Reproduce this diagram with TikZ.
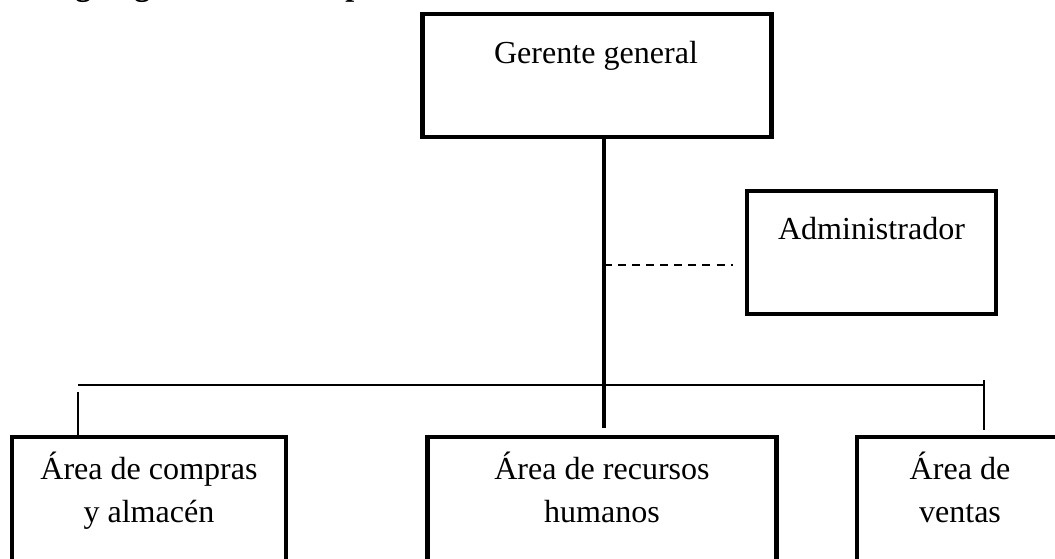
\documentclass[tikz,border=0pt]{standalone}
\usepackage{fontspec}
\setmainfont{Liberation Serif}
\usetikzlibrary{positioning,calc}

\tikzset{
  caja/.style={draw, line width=3.5pt, inner sep=0pt, minimum height=#1},
  caja/.default=3.075cm,
  texto/.style={anchor=base, align=center, inner sep=0pt,
    font=\fontsize{22.8}{29.9}\selectfont},
  tronco/.style={line width=3.5pt},
  rama/.style={line width=1.1pt},
  enlace/.style={line width=0.9pt, dash pattern=on 5.7pt off 4.3pt}
}

\begin{document}
\begin{tikzpicture}[x=0.025cm,y=-0.025cm]
    \useasboundingbox (0,0) rectangle (1055,559);
    % titulo (cortado por el borde superior)
    \node[anchor=base west, inner sep=0pt, font=\fontsize{22.8}{29.9}\selectfont\bfseries]
        (titulo) at (36,-5) {Organigrama de la empresa};
    % cajas
    \node[caja, minimum width=8.7cm] (gerente) at (597,75.5) {};
    \node[caja, minimum width=6.225cm] (admin) at (871.5,252.5) {};
    \node[caja=4.075cm, minimum width=6.85cm] (compras) at (149,518.5) {};
    \node[caja=4.075cm, minimum width=8.7cm] (rrhh) at (602,518.5) {};
    \node[caja=4.075cm, minimum width=5.15cm] (ventas) at (960,518.5) {};
    % textos
    \node[texto] (gerente-txt) at (596,63) {Gerente general};
    \node[texto] (admin-txt) at (871.5,239) {Administrador};
    \node[texto] (compras-txt) at (149,522) {Área de compras\\y almacén};
    \node[texto] (rrhh-txt) at (602,522) {Área de recursos\\humanos};
    \node[texto] (ventas-txt) at (960,522) {Área de\\ventas};
    % puntos de las lineas
    \coordinate (tronco-fin) at (604,428);
    \coordinate (guion-fin) at (733,265);
    \coordinate (barra-izq) at (78,385);
    \coordinate (barra-der) at (984,385);
    \coordinate (baja-izq) at (78,392);
    \coordinate (tope-der) at (984,380);
    \coordinate (baja-der) at (984,430);
    % lineas
    \draw[tronco] (gerente.south -| tronco-fin) -- (tronco-fin);
    \draw[enlace] (guion-fin -| tronco-fin) -- (guion-fin);
    \draw[rama] (barra-izq) -- (barra-der);
    \draw[rama] (baja-izq) -- (baja-izq |- compras.north);
    \draw[rama] (tope-der) -- (baja-der);
\end{tikzpicture}
\end{document}
